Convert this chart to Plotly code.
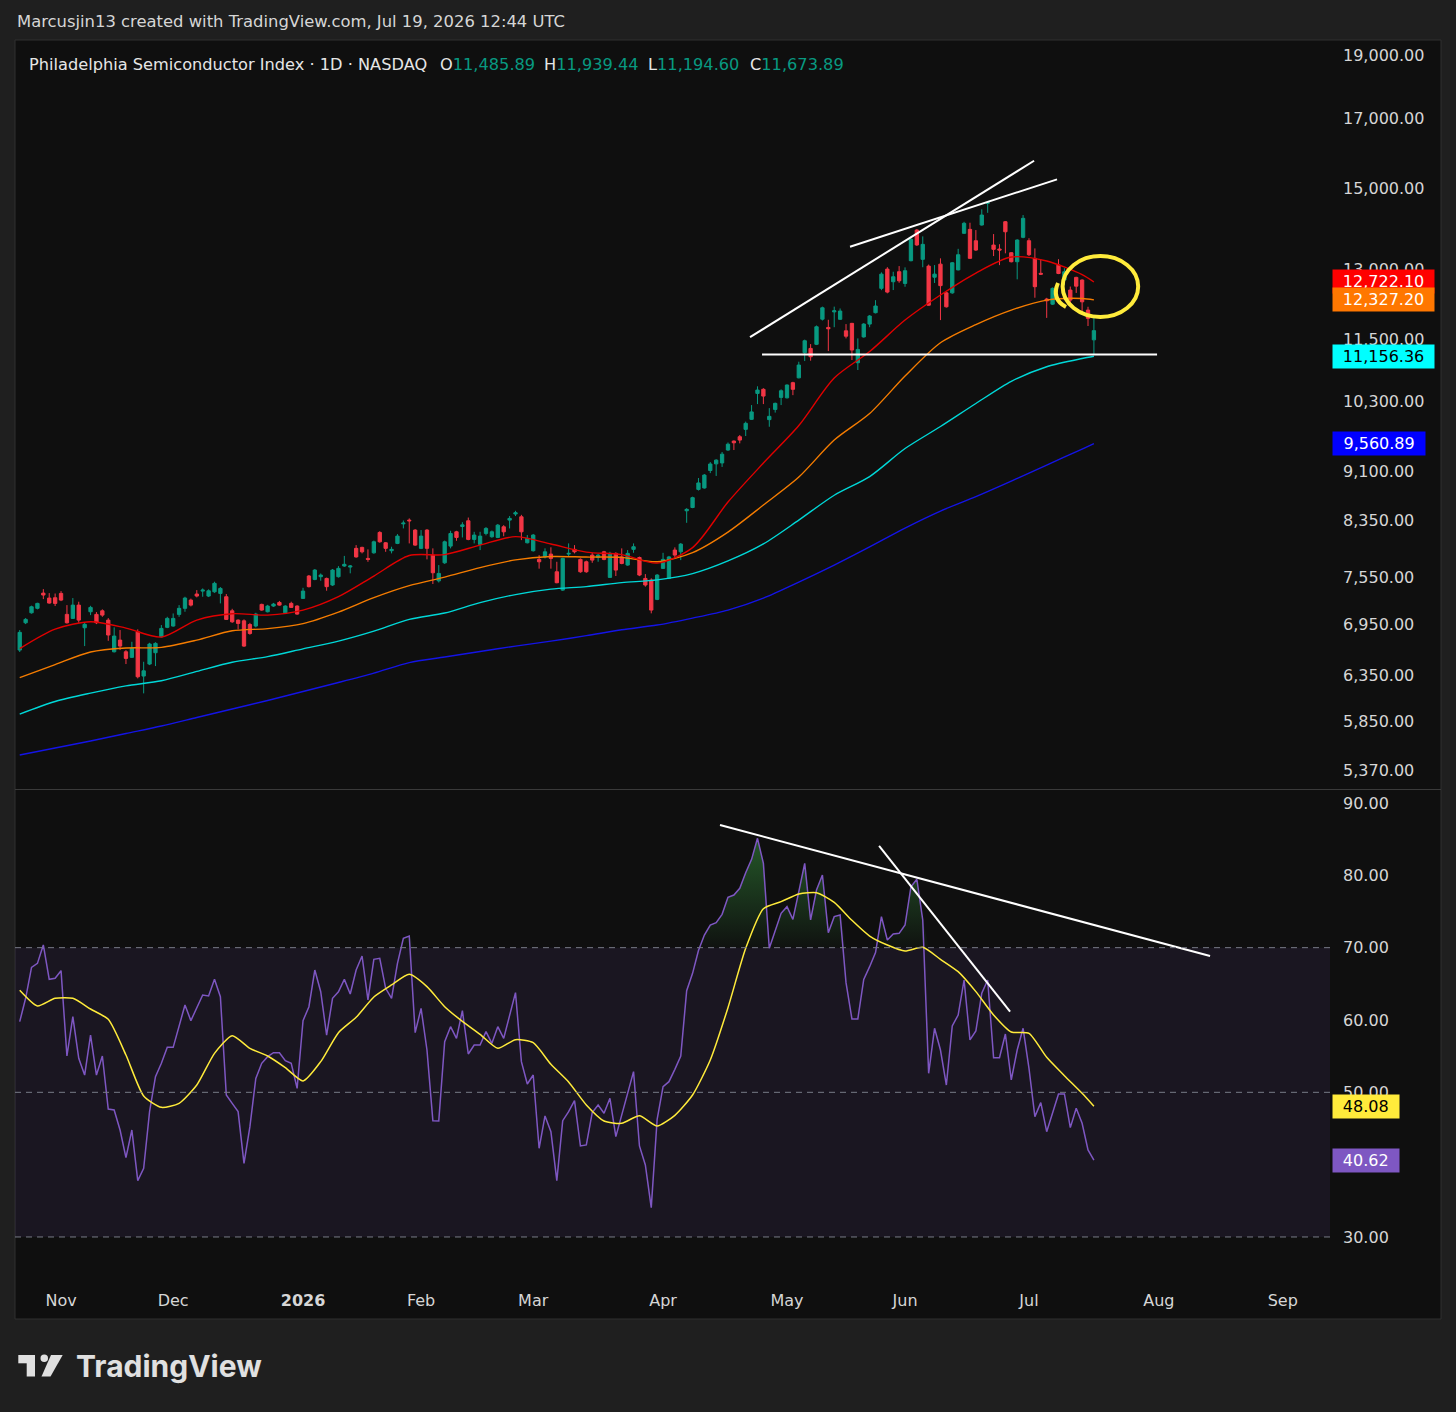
import numpy as np
import pandas as pd
import plotly.graph_objects as go

#%% data: SOX daily bars, 23 Oct 2025 -> 17 Jul 2026
opens = [6638, 6966, 7090, 7146, 7341, 7277, 7281, 7337, 7070, 7020,
         7187, 6905, 7103, 7070, 7115, 6999, 6618, 6756, 6618, 6553,
         6856, 6340, 6476, 6607, 6795, 6910, 6926, 7070, 7146, 7251,
         7329, 7367, 7303, 7358, 7337, 7294, 7115, 6999, 6990, 6945,
         6926, 7196, 7103, 7175, 7221, 7090, 7209, 7175, 7273, 7566,
         7521, 7557, 7534, 7447, 7557, 7701, 7687, 7945, 7959, 7805,
         7883, 8172, 8024, 7912, 8015, 8297, 8352, 8206, 7945, 8206,
         7851, 7502, 7745, 7977, 8181, 8258, 8342, 8072, 8001, 8158,
         8110, 8100, 8254, 8352, 8442, 8401, 8024, 7912, 7792, 7826,
         7865, 7623, 7380, 7865, 7931, 7792, 7759, 7851, 7818, 7897,
         7548, 7875, 7826, 7714, 7931, 7818, 7534, 7512, 7260, 7669,
         7534, 7921, 7897, 8491, 8540, 8818, 8840, 9117, 9225, 9240,
         9453, 9604, 9678, 9805, 9980, 10448, 10524, 9975, 10157, 10375,
         10367, 10648, 10740, 11227, 11313, 11395, 11913, 11740, 12068, 11910,
         11670, 11825, 11030, 11545, 11810, 12050, 12580, 13015, 12728, 12955,
         12690, 13210, 13945, 13242, 13084, 12830, 13130, 12480, 12480, 12997,
         13865, 13962, 13684, 14070, 14620, 13580, 13485, 14152, 13397, 13186,
         13767, 13685, 13265, 12918, 12344, 12233, 13108, 12766, 12542, 12826,
         12766, 12106, 11485.89]
highs = [6877, 7024, 7180, 7217, 7393, 7341, 7336, 7367, 7187, 7277,
         7230, 6963, 7178, 7099, 7133, 7024, 6910, 6877, 6638, 6736,
         6885, 6502, 6724, 6730, 6938, 7040, 7082, 7187, 7294, 7270,
         7380, 7402, 7390, 7490, 7420, 7329, 7140, 7008, 7008, 6965,
         7090, 7205, 7190, 7215, 7240, 7185, 7230, 7185, 7410, 7580,
         7660, 7600, 7545, 7660, 7700, 7840, 7715, 7991, 7968, 7931,
         8055, 8190, 8035, 7968, 8148, 8346, 8377, 8220, 8206, 8220,
         7945, 7714, 8055, 8196, 8195, 8321, 8390, 8181, 8181, 8250,
         8200, 8295, 8278, 8412, 8490, 8430, 8134, 8150, 7851, 7945,
         7960, 7759, 7815, 8015, 7991, 7805, 7775, 7883, 7865, 7910,
         7897, 7890, 7945, 7921, 8015, 7830, 7592, 7535, 7592, 7883,
         7840, 7959, 8020, 8530, 8705, 8997, 9060, 9254, 9300, 9420,
         9580, 9615, 9708, 9940, 10235, 10580, 10545, 10180, 10280, 10524,
         10615, 10665, 11050, 11490, 11400, 11780, 12180, 11900, 12180, 12140,
         11810, 11835, 11515, 11830, 12000, 12320, 12940, 13060, 12955, 13085,
         13055, 13750, 13970, 13790, 13120, 13108, 13265, 12500, 13180, 13490,
         14150, 14127, 13945, 14465, 14660, 13847, 13600, 14170, 13410, 13720,
         14320, 13745, 13500, 13245, 12370, 12600, 13245, 13036, 12620, 12840,
         12780, 12177, 11939.44]
lows = [6615, 6950, 7080, 7133, 7264, 7205, 7175, 7238, 6956, 7015,
        6966, 6685, 7061, 6950, 7040, 6748, 6610, 6638, 6476, 6545,
        6314, 6149, 6464, 6453, 6787, 6900, 6918, 7040, 7103, 7170,
        7286, 7294, 7290, 7345, 7209, 7000, 6965, 6885, 6675, 6820,
        6910, 7115, 7095, 7165, 7180, 7080, 7150, 7065, 7265, 7415,
        7510, 7503, 7372, 7435, 7545, 7690, 7602, 7815, 7875, 7759,
        7870, 8025, 7897, 7875, 8005, 8230, 8015, 7980, 7935, 7792,
        7460, 7480, 7730, 7945, 8052, 8100, 8060, 8015, 7921, 8130,
        8095, 8090, 8117, 8230, 8412, 8062, 8015, 7900, 7665, 7805,
        7665, 7470, 7370, 7826, 7875, 7610, 7610, 7745, 7759, 7780,
        7540, 7566, 7725, 7705, 7883, 7565, 7425, 7083, 7250, 7660,
        7525, 7818, 7782, 8312, 8530, 8800, 8830, 9075, 9030, 9175,
        9440, 9453, 9565, 9690, 9970, 10253, 10253, 9850, 10100, 10235,
        10355, 10416, 10730, 11063, 11070, 11380, 11885, 11260, 11745, 11895,
        11515, 11083, 10889, 11530, 11745, 12035, 12540, 12470, 12542, 12705,
        12615, 13195, 13560, 13058, 12200, 12700, 11894, 12160, 12460, 12985,
        13850, 13255, 13440, 14055, 14377, 13319, 13107, 13383, 13170, 12782,
        13745, 13320, 12373, 12880, 11940, 12215, 12900, 12655, 12236, 12478,
        12024, 11770, 11194.60]
closes = [6849, 7008, 7166, 7209, 7316, 7213, 7209, 7251, 6966, 7187,
          6999, 6947, 7158, 6966, 7061, 6817, 6804, 6685, 6541, 6658,
          6332, 6399, 6709, 6717, 6897, 7020, 7020, 7146, 7277, 7187,
          7303, 7380, 7371, 7469, 7402, 7008, 6978, 6958, 6685, 6835,
          7074, 7124, 7175, 7200, 7187, 7175, 7158, 7074, 7367, 7425,
          7646, 7579, 7425, 7646, 7669, 7724, 7701, 7826, 7897, 7792,
          8038, 8038, 7945, 7931, 8119, 8308, 8342, 7991, 8119, 7945,
          7610, 7601, 8038, 8157, 8100, 8282, 8072, 8134, 8119, 8230,
          8181, 8278, 8181, 8377, 8461, 8181, 8087, 8134, 7759, 7897,
          7805, 7477, 7805, 7875, 7897, 7623, 7623, 7782, 7851, 7792,
          7875, 7646, 7736, 7875, 7968, 7579, 7447, 7124, 7579, 7792,
          7826, 7851, 8005, 8512, 8690, 8919, 9044, 9223, 9286, 9384,
          9551, 9575, 9621, 9910, 10112, 10510, 10399, 10033, 10266, 10497,
          10604, 10524, 10985, 11467, 11148, 11754, 12155, 11712, 12089, 12085,
          11560, 11280, 11293, 11810, 11979, 12193, 12900, 12497, 12840, 12750,
          12978, 13718, 13583, 13597, 12211, 12900, 12640, 12176, 13162, 13350,
          14112, 13265, 13461, 14320, 14635, 13478, 13461, 13903, 13186, 13701,
          14237, 13350, 12617, 12900, 12306, 12580, 12915, 12955, 12322, 12629,
          12284, 11930, 11673.89]

# moving averages, read every 6th bar (last point = value tag on the axis)
ma_idx = list(range(0, 181, 6)) + [182]
ma_red = [6656, 6889, 6978, 6901, 6792, 6999, 7078, 7061, 7124, 7296,
          7566, 7845, 7858, 7991, 8112, 8006, 7893, 7858, 7741, 7956,
          8623, 9238, 9871, 10736, 11250, 11894, 12432, 12925, 13296, 13202,
          12889, 12722.10]
ma_orange = [6323, 6470, 6615, 6662, 6670, 6756, 6868, 6895, 6956, 7099,
             7283, 7439, 7552, 7680, 7785, 7831, 7824, 7820, 7759, 7886,
             8177, 8577, 9012, 9621, 10083, 10774, 11427, 11800, 12106, 12322,
             12357, 12327.20]
ma_cyan = [5928, 6061, 6152, 6231, 6288, 6392, 6496, 6561, 6652, 6744,
           6864, 7008, 7087, 7219, 7322, 7393, 7426, 7478, 7515, 7599,
           7771, 8008, 8352, 8727, 9020, 9478, 9854, 10263, 10673, 10953,
           11113, 11156.36]
ma_blue = [5514, 5583, 5652, 5728, 5804, 5892, 5981, 6072, 6169, 6268,
           6373, 6493, 6557, 6621, 6685, 6744, 6809, 6881, 6938, 7024,
           7124, 7277, 7486, 7714, 7966, 8235, 8486, 8706, 8948, 9205,
           9469, 9560.89]

# RSI(14) per bar and its smoothing line (read every 3rd bar)
rsi = [59.77, 63.0, 67.28, 67.83, 70.37, 65.62, 65.76, 66.82, 55.02, 60.46,
       54.7, 52.39, 57.92, 52.39, 55.02, 47.69, 47.56, 44.79, 40.97, 44.79,
       37.79, 39.49, 47.33, 52.16, 54.01, 56.22, 56.22, 59.08, 62.07, 59.91,
       61.75, 63.45, 63.32, 65.62, 63.22, 49.63, 48.48, 47.33, 40.18, 45.25,
       51.93, 54.01, 54.93, 55.48, 55.48, 54.38, 54.01, 50.55, 59.91, 61.84,
       66.91, 63.91, 57.92, 63.0, 63.91, 65.62, 63.59, 66.91, 68.85, 62.77,
       68.39, 68.52, 64.38, 63.0, 67.83, 71.29, 71.61, 58.25, 61.61, 55.85,
       46.08, 46.04, 57.0, 59.08, 57.46, 61.29, 55.3, 56.54, 56.54, 58.39,
       56.77, 59.08, 57.46, 60.69, 63.78, 54.24, 51.15, 52.39, 42.26, 46.73,
       44.56, 37.79, 46.08, 47.33, 48.85, 42.58, 42.72, 47.19, 48.25, 47.1,
       49.17, 43.87, 46.87, 49.86, 52.86, 42.58, 39.95, 34.06, 46.27, 50.78,
       51.47, 53.18, 55.02, 64.05, 66.45, 69.6, 71.75, 73.13, 73.46, 74.61,
       76.96, 77.28, 78.2, 80.37, 82.21, 85.12, 81.66, 69.91, 72.21, 74.75,
       75.67, 73.92, 77.74, 81.66, 73.83, 77.97, 80.05, 72.07, 74.29, 74.52,
       65.16, 60.14, 60.14, 65.62, 67.37, 69.31, 74.29, 71.06, 71.89, 71.98,
       73.13, 78.43, 79.45, 73.83, 52.63, 58.85, 55.85, 51.01, 59.17, 60.69,
       65.53, 57.24, 58.48, 63.69, 65.53, 54.79, 54.79, 58.06, 51.71, 55.85,
       58.85, 53.3, 46.64, 48.57, 44.56, 47.19, 49.77, 49.77, 45.12, 47.79,
       45.72, 42.03, 40.62]
rsi_ma_idx = list(range(0, 181, 3)) + [182]
rsi_ma = [64.10, 61.93, 63.0, 63.0, 61.52, 60.09, 55.16, 49.49, 47.92, 48.48,
          51.01, 55.39, 57.83, 56.08, 55.02, 53.41, 51.57, 54.24, 58.25, 60.37,
          63.18, 64.84, 66.31, 64.61, 61.84, 59.81, 58.02, 56.08, 57.28, 56.86,
          53.87, 51.43, 48.25, 46.03, 45.71, 46.77, 45.34, 46.82, 49.63, 54.47,
          61.7, 69.91, 75.39, 76.36, 77.42, 77.6, 76.27, 73.78, 71.61, 70.37,
          69.54, 70.05, 68.39, 66.68, 63.92, 60.69, 58.34, 58.16, 54.84, 52.3,
          49.86, 48.08]

# hand drawn lines (bar index, value)
wedge_a_x, wedge_a_y = [123.74, 171.86], [11540, 15762]
wedge_b_x, wedge_b_y = [140.68, 175.75], [13540, 15252]
support_x, support_y = [125.77, 192.7], [11191, 11191]
rsi_tl_a_x, rsi_tl_a_y = [118.65, 201.68], [86.96, 68.85]
rsi_tl_b_x, rsi_tl_b_y = [145.6, 167.8], [84.06, 61.15]
circle_x, circle_p = [176.7, 189.5], [11960, 13319]

price_ticks = [5370, 5850, 6350, 6950, 7550, 8350, 9100, 10300, 11500,
               13000, 15000, 17000, 19000]
rsi_ticks = [30, 50, 60, 70, 80, 90]

holidays = ['2025-11-27', '2025-12-25', '2026-01-01', '2026-01-19', '2026-02-16',
            '2026-04-03', '2026-05-25', '2026-06-19', '2026-07-03', '2026-09-07']

#%% figure
W, H = 1456, 1412
BG = '#0f0f0f'
OUTER = '#1f1f1f'
TXT = '#d6d6d6'
UP, DN = '#089981', '#f23645'
FONT = 'DejaVu Sans'
PRICE_RANGE = [3.7154, 4.2903]   # log10 of the visible price span


def fx(x):
    return x / W


def fy(y):
    return 1 - y / H


def price_dom(p):
    # position of a price inside the price pane, 0 = bottom, 1 = top
    return (np.log10(p) - PRICE_RANGE[0]) / (PRICE_RANGE[1] - PRICE_RANGE[0])


n = len(closes)
idx = np.arange(n)

cal = pd.bdate_range('2025-10-23', '2026-10-30', freq='C', holidays=holidays)
tick_idx, tick_txt = [], []
for i in range(1, len(cal)):
    if cal[i].month != cal[i - 1].month:
        tick_idx.append(i)
        tick_txt.append('<b>%d</b>' % cal[i].year if cal[i].month == 1 else cal[i].strftime('%b'))

xr = [-0.8, 222.0]

fig = go.Figure()

for vals, col in [(ma_blue, '#1414e6'), (ma_cyan, '#00d8d8'), (ma_orange, '#f57c00'), (ma_red, '#e00000')]:
    fig.add_trace(go.Scatter(x=ma_idx, y=vals, mode='lines', line=dict(color=col, width=1.4, shape='spline', smoothing=0.8),
                             hoverinfo='skip', showlegend=False))

fig.add_trace(go.Candlestick(x=idx, open=opens, high=highs, low=lows, close=closes,
                             increasing=dict(line=dict(color=UP, width=1), fillcolor=UP),
                             decreasing=dict(line=dict(color=DN, width=1), fillcolor=DN),
                             whiskerwidth=0, showlegend=False, hoverinfo='skip'))

for tx, ty in [(wedge_a_x, wedge_a_y), (wedge_b_x, wedge_b_y), (support_x, support_y)]:
    fig.add_trace(go.Scatter(x=tx, y=ty, mode='lines', line=dict(color='white', width=2),
                             hoverinfo='skip', showlegend=False))

# RSI pane
fig.add_trace(go.Scatter(x=idx, y=[70] * n, xaxis='x2', yaxis='y2', mode='lines', line=dict(width=0),
                         hoverinfo='skip', showlegend=False))
fig.add_trace(go.Scatter(x=idx, y=np.maximum(rsi, 70), xaxis='x2', yaxis='y2', mode='lines', line=dict(width=0),
                         fill='tonexty',
                         fillgradient=dict(type='vertical', start=70, stop=86,
                                           colorscale=[[0, 'rgba(60,170,70,0.02)'], [1, 'rgba(60,170,70,0.5)']]),
                         hoverinfo='skip', showlegend=False))
fig.add_trace(go.Scatter(x=idx, y=rsi, xaxis='x2', yaxis='y2', mode='lines', line=dict(color='#7e57c2', width=1.5),
                         hoverinfo='skip', showlegend=False))
fig.add_trace(go.Scatter(x=rsi_ma_idx, y=rsi_ma, xaxis='x2', yaxis='y2', mode='lines',
                         line=dict(color='#ffeb3b', width=1.5, shape='spline', smoothing=0.6),
                         hoverinfo='skip', showlegend=False))
for tx, ty in [(rsi_tl_a_x, rsi_tl_a_y), (rsi_tl_b_x, rsi_tl_b_y)]:
    fig.add_trace(go.Scatter(x=tx, y=ty, xaxis='x2', yaxis='y2', mode='lines', line=dict(color='white', width=2),
                             hoverinfo='skip', showlegend=False))

shapes = [
    dict(type='rect', xref='paper', yref='paper', x0=fx(15), x1=fx(1441), y0=fy(1319), y1=fy(40),
         fillcolor=BG, line=dict(color='#303030', width=1), layer='below'),
    dict(type='rect', xref='x2 domain', yref='y2', x0=0, x1=1, y0=30, y1=70,
         fillcolor='rgba(126,87,194,0.10)', line=dict(width=0), layer='below'),
    dict(type='line', xref='paper', yref='paper', x0=fx(15), x1=fx(1441), y0=fy(789.5), y1=fy(789.5),
         line=dict(color='#3a3a3a', width=1)),
]
for lvl in [70, 50, 30]:
    shapes.append(dict(type='line', xref='x2 domain', yref='y2', x0=0, x1=1, y0=lvl, y1=lvl,
                       line=dict(color='#787b86', width=1, dash='6px,5px')))

# yellow hand drawn circle around the last few bars
shapes.append(dict(type='circle', xref='x', yref='y domain', x0=circle_x[0], x1=circle_x[1],
                   y0=price_dom(circle_p[0]), y1=price_dom(circle_p[1]),
                   line=dict(color='#ffeb3b', width=4)))
shapes.append(dict(type='path', xref='paper', yref='paper',
                   path='M %f,%f Q %f,%f %f,%f' % (fx(1058), fy(283), fx(1051), fy(299), fx(1066), fy(307)),
                   line=dict(color='#ffeb3b', width=4)))

annotations = []


# value tags on the right scale
def add_tag(yref, ypos, bg, fg, text):
    box_w = 21 + 8.9 * len(text)
    annotations.append(dict(x=fx(1332), y=ypos, xref='paper', yref=yref, xanchor='left', yanchor='middle',
                            text=text, showarrow=False, bgcolor=bg, borderpad=2, width=box_w - 4,
                            align='center', font=dict(family=FONT, size=16, color=fg)))


add_tag('y', np.log10(ma_red[-1]), '#ff0000', 'white', f'{ma_red[-1]:,.2f}')
add_tag('y', np.log10(ma_orange[-1]), '#ff7700', 'white', f'{ma_orange[-1]:,.2f}')
add_tag('y', np.log10(ma_cyan[-1]), '#00ffff', 'black', f'{ma_cyan[-1]:,.2f}')
add_tag('y', np.log10(ma_blue[-1]), '#0000ff', 'white', f'{ma_blue[-1]:,.2f}')
add_tag('y2', rsi_ma[-1], '#ffeb3b', 'black', f'{rsi_ma[-1]:.2f}')
add_tag('y2', rsi[-1], '#7e57c2', 'white', f'{rsi[-1]:.2f}')

# header + legend line
annotations.append(dict(x=fx(15), y=fy(22), xref='paper', yref='paper', xanchor='left', yanchor='middle',
                        text='Marcusjin13 created with TradingView.com, Jul 19, 2026 12:44 UTC',
                        showarrow=False, font=dict(family=FONT, size=16.4, color=TXT)))
annotations.append(dict(x=fx(27), y=fy(65), xref='paper', yref='paper', xanchor='left', yanchor='middle',
                        text='Philadelphia Semiconductor Index · 1D · NASDAQ',
                        showarrow=False, font=dict(family=FONT, size=16.2, color='#e6e6e6')))
for xpos, lab, val in [(438, 'O', opens[-1]), (542, 'H', highs[-1]), (646, 'L', lows[-1]), (748, 'C', closes[-1])]:
    annotations.append(dict(x=fx(xpos), y=fy(65), xref='paper', yref='paper', xanchor='left', yanchor='middle',
                            text=f"{lab}<span style='color:{UP}'>{val:,.2f}</span>",
                            showarrow=False, font=dict(family=FONT, size=16.2, color='#e6e6e6')))

# TradingView logo
LOGO = '#e0e0e0'
shapes += [
    dict(type='rect', xref='paper', yref='paper', x0=fx(18.3), x1=fx(35), y0=fy(1363.3), y1=fy(1355),
         fillcolor=LOGO, line=dict(width=0)),
    dict(type='rect', xref='paper', yref='paper', x0=fx(26.7), x1=fx(35), y0=fy(1376.5), y1=fy(1355),
         fillcolor=LOGO, line=dict(width=0)),
    dict(type='circle', xref='paper', yref='paper', x0=fx(40.5), x1=fx(48), y0=fy(1362), y1=fy(1354.5),
         fillcolor=LOGO, line=dict(width=0)),
    dict(type='path', xref='paper', yref='paper',
         path='M %f,%f L %f,%f L %f,%f L %f,%f Z' % (fx(51), fy(1355), fx(62.7), fy(1355),
                                                     fx(50.5), fy(1376.5), fx(41.5), fy(1376.5)),
         fillcolor=LOGO, line=dict(width=0)),
]
annotations.append(dict(x=fx(74), y=fy(1366), xref='paper', yref='paper', xanchor='left', yanchor='middle',
                        text='<b>TradingView</b>', showarrow=False,
                        font=dict(family='Inter', size=30, color=LOGO)))

axis_common = dict(showgrid=False, zeroline=False, showline=False, ticks='', fixedrange=True)

fig.update_layout(
    width=W, height=H, autosize=False, margin=dict(l=0, r=0, t=0, b=0),
    paper_bgcolor=OUTER, plot_bgcolor='rgba(0,0,0,0)', showlegend=False,
    font=dict(family=FONT, size=16, color=TXT), boxgap=0.2,
    xaxis=dict(domain=[fx(15), fx(1330)], range=xr, anchor='y', showticklabels=False,
               rangeslider=dict(visible=False), **axis_common),
    xaxis2=dict(domain=[fx(15), fx(1330)], range=xr, anchor='y2', tickvals=tick_idx, ticktext=tick_txt,
                ticklabelstandoff=9, tickfont=dict(family=FONT, size=16, color=TXT), **axis_common),
    yaxis=dict(domain=[fy(789), fy(40)], type='log', range=PRICE_RANGE, side='right', anchor='x',
               tickvals=price_ticks, ticktext=[f'{v:,.2f}' for v in price_ticks], ticklabelstandoff=12,
               tickfont=dict(family=FONT, size=16, color=TXT), **axis_common),
    yaxis2=dict(domain=[fy(1280), fy(790)], range=[24.05, 91.8], side='right', anchor='x2',
                tickvals=rsi_ticks, ticktext=[f'{v:.2f}' for v in rsi_ticks], ticklabelstandoff=12,
                tickfont=dict(family=FONT, size=16, color=TXT), **axis_common),
    shapes=shapes,
    annotations=annotations,
)

fig.write_html("out.html", config={'displayModeBar': False},
               post_script="document.body.style.margin='0px';")
